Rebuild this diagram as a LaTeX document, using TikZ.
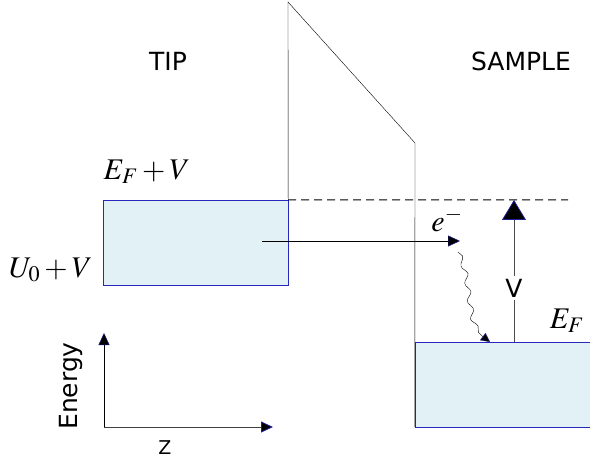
\documentclass[tikz,border=0pt]{standalone}
\usepackage{mathptmx}
\usepackage[no-math]{fontspec}
\setsansfont{DejaVu Sans}
\usepackage{tikz}
\usetikzlibrary{arrows.meta,decorations.pathmorphing}
\definecolor{bandfill}{RGB}{226, 241, 245}
\definecolor{bandedge}{RGB}{40, 40, 190}
\definecolor{tipedge}{RGB}{30, 30, 150}

\begin{document}
\begin{tikzpicture}[x=1pt, y=1pt,
  band/.style={draw=bandedge, fill=bandfill, inner sep=0pt},
  arrow/.style={-{Triangle[length=12pt, width=11pt, color=tipedge, fill=black]}},
  txt/.style={font=\sffamily\fontsize{25}{30}\selectfont},
  mathlabel/.style={font=\fontsize{30}{36}\selectfont}
]
  \useasboundingbox (0, 0) rectangle (590, 467);

  % Bands
  \node[band, minimum width=185pt, minimum height=85pt] (tipband) at (195.5, 224.5) {};
  \node[band, minimum width=175pt, minimum height=85pt] (sampleband) at (502.5, 82.5) {};

  % Barrier
  \coordinate (bartop) at (288, 465);
  \coordinate (barknee) at (415, 324);
  \draw (tipband.north east) -- (bartop) -- (barknee) -- (sampleband.north west |- 0, 40);

  % Fermi level of the tip
  \draw[dash pattern=on 8pt off 5pt, line width=1pt] (tipband.north east) -- (568, 267) coordinate (fermiend);

  % Labels
  \node[txt] (tip) at (168, 406) {TIP};
  \node[txt] (sample) at (521, 406) {SAMPLE};
  \node[mathlabel] (efv) at (147, 295) {$E_F+V$};
  \node[mathlabel, anchor=east] (uov) at (96, 197) {$U_0+V$};
  \node[mathlabel] (ef) at (567, 146) {$E_F$};

  % Tunnelling electron
  \coordinate (tunstart) at (262, 226);
  \coordinate (tunend) at (460, 226);
  \draw[arrow] (tunstart) -- (tunend);
  \node[mathlabel] (el) at (447, 247) {$e^-$};
  \coordinate (relstart) at (458, 215);
  \coordinate (relend) at (490, 125);
  \draw[-{Triangle[length=9pt, width=9pt, color=tipedge, fill=black]},
        decorate, decoration={snake, amplitude=2.5pt, segment length=18pt, post length=10pt}]
    (relstart) .. controls (472, 185) and (462, 140) .. (relend);

  % Bias
  \coordinate (vbot) at (514, 125);
  \coordinate (vtop) at (514, 267);
  \draw[gray!60!black, thick, -{Triangle[length=20pt, width=24pt, color=tipedge, fill=black]}]
    (vbot) -- node[fill=white, text=black, txt, inner sep=3pt, pos=0.38] (v) {V} (vtop);

  % Axes
  \coordinate (origin) at (104, 40);
  \coordinate (eaxis) at (104, 134);
  \coordinate (zaxis) at (273, 40);
  \draw[thick, gray!50!black, arrow] (origin) -- (zaxis);
  \draw[arrow] (origin) -- (eaxis);
  \node[txt, rotate=90] (energy) at (71, 81) {Energy};
  \node[txt, font=\sffamily\fontsize{19}{22}\selectfont] (z) at (165, 19) {Z};
\end{tikzpicture}
\end{document}
